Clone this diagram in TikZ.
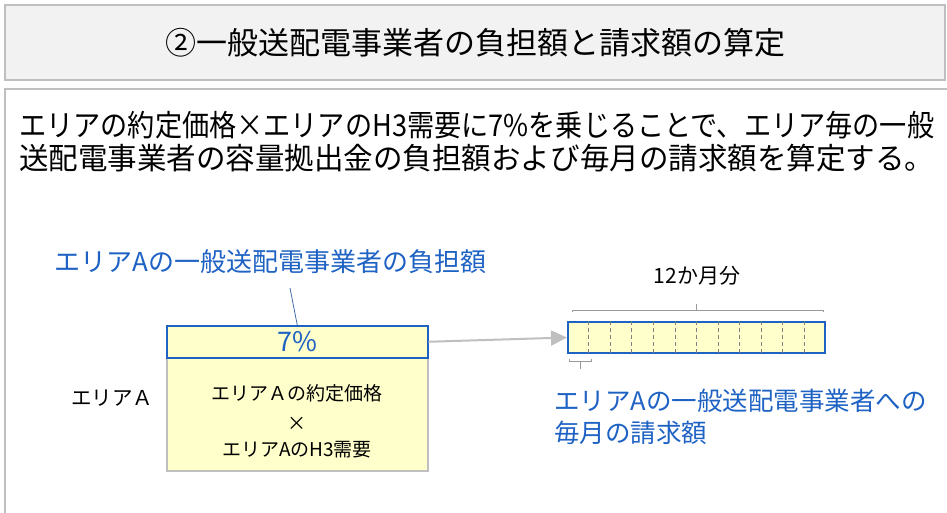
\documentclass[tikz,border=0pt]{standalone}
\usepackage{graphicx}
\usepackage{fontspec}
\setmainfont{Noto Sans CJK JP}
\usetikzlibrary{
	arrows.meta,
	calc,
	positioning
}
\definecolor{AreaBlue}{RGB}{30,98,196}
\definecolor{PaleYellow}{RGB}{255,255,204}
\definecolor{TitleGray}{RGB}{242,242,242}
\definecolor{FrameGray}{RGB}{191,191,191}
\newcommand{\introline}[1]{\resizebox{915pt}{\height}{#1}}

\begin{document}
\begin{tikzpicture}[x=1pt, y=-1pt,
		frame/.style={draw=FrameGray, line width=1.2pt},
		bluetext/.style={text=AreaBlue, inner sep=0pt},
		fs/.style={font=\fontsize{#1}{#1}\selectfont}]
		\useasboundingbox (0,0) rectangle (947,512);
		
		% title bar and body frame
		\draw[frame, fill=TitleGray] (5,5) rectangle (945,80);
		\node[fs=31] (title) at (475,43) {②一般送配電事業者の負担額と請求額の算定};
		\draw[frame, fill=white] (5,89) rectangle (960,540);
		
		\node[anchor=north west, align=left, inner sep=0pt, font=\fontsize{30}{33}\selectfont] (intro) at (19,111)
			{\introline{エリアの約定価格×エリアのH3需要に7\%を乗じることで、エリア毎の一般}\\
			 \introline{送配電事業者の容量拠出金の負担額および毎月の請求額を算定する。}};
		
		% left block
		\node[bluetext, fs=26, anchor=west] (burden) at (54,262) {エリアAの一般送配電事業者の負担額};
		\node[draw=FrameGray, line width=1.5pt, fill=PaleYellow, minimum width=261pt, minimum height=145pt,
			anchor=north west, inner sep=0pt] (box) at (166,325) {};
		\node[draw=AreaBlue, line width=1.5pt, fill=PaleYellow, minimum width=261pt, minimum height=32pt,
			anchor=north west, inner sep=0pt, text=AreaBlue, fs=27] (rate) at (166,325) {7\%};
		\node[fs=19] (price) at (297,393) {エリアＡの約定価格};
		\node[fs=19] (times) at (297,424) {×};
		\node[fs=19] (demand) at (297,450) {エリアAのH3需要};
		\node[fs=20.5, left=9pt of box] (area) {エリアＡ};
		
		\coordinate (lead) at (290,288);
		\draw[AreaBlue!60!gray, line width=0.8pt] (lead) -- (rate.north);
		
		% monthly bar
		\node[draw=AreaBlue, line width=2pt, fill=PaleYellow, minimum width=257pt, minimum height=31pt,
			anchor=north west, inner sep=0pt] (bar) at (567,321) {};
		\foreach \i in {1,...,11}
			\draw[gray, line width=0.8pt, dash pattern=on 4pt off 3pt]
				($(bar.north west)!\i/12!(bar.north east)$) -- ($(bar.south west)!\i/12!(bar.south east)$);
		
		\draw[draw=FrameGray, line width=2pt, -{Triangle[length=16pt, width=15pt]}] (rate.east) -- (bar.west);
		
		% braces
		\draw[gray!80, line width=0.8pt] ($(bar.north west)+(5,-9)$) -- ++(0,-2) -- ($(bar.north east)+(-3,-11)$) -- ++(0,2);
		\draw[gray!80, line width=0.8pt] ($(bar.north)+(0,-11)$) -- ++(0,-6);
		\draw[gray!80, line width=0.8pt] ($(bar.south west)+(2,5)$) -- ++(0,2) -- ++(22,0) -- ++(0,-2);
		\draw[gray!80, line width=0.8pt] ($(bar.south west)+(13,7)$) -- ++(0,8);
		
		\node[fs=21] (months) at (697,276) {12か月分};
		\node[bluetext, anchor=north west, align=left, font=\fontsize{25.5}{32}\selectfont] (invoice) at (554,389)
			{エリアAの一般送配電事業者への\\毎月の請求額};
	\end{tikzpicture}
\end{document}
